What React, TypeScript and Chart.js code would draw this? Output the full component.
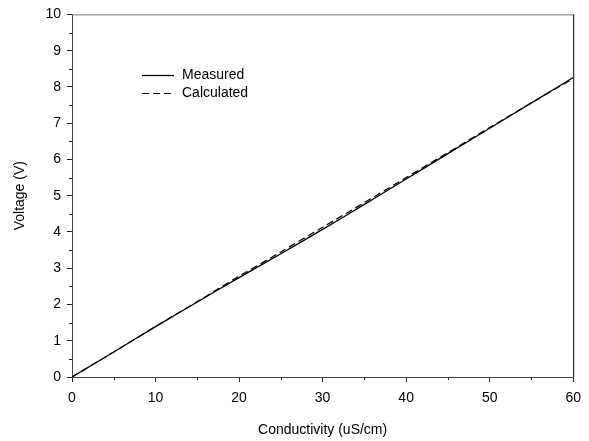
import React, { useEffect, useRef } from "react";
import { Chart, registerables } from "chart.js";

Chart.register(...registerables);

const conductivity = [0, 5, 10, 15, 20, 25, 30, 35, 40, 45, 50, 55, 60];
const measured = [0, 0.69, 1.39, 2.07, 2.74, 3.4, 4.07, 4.76, 5.46, 6.16, 6.86, 7.56, 8.26];
const calculated = [0, 0.69, 1.39, 2.08, 2.78, 3.45, 4.13, 4.81, 5.5, 6.19, 6.88, 7.56, 8.23];
const xTicks = [0, 10, 20, 30, 40, 50, 60];
const yTicks = [0, 1, 2, 3, 4, 5, 6, 7, 8, 9, 10];

const FONT = "'Liberation Sans', Arial, sans-serif";

const framePlugin = {
  id: "frame",
  afterDraw(chart: any) {
    const { ctx, chartArea } = chart;
    const xs = chart.scales.x;
    const ys = chart.scales.y;
    ctx.save();
    ctx.lineWidth = 1;
    ctx.strokeStyle = "#7a7a7a";
    ctx.beginPath();
    ctx.moveTo(chartArea.left, chartArea.top + 0.5);
    ctx.lineTo(chartArea.right, chartArea.top + 0.5);
    ctx.stroke();
    ctx.strokeStyle = "#000";
    ctx.beginPath();
    ctx.moveTo(chartArea.right + 0.5, chartArea.top);
    ctx.lineTo(chartArea.right + 0.5, chartArea.bottom);
    ctx.stroke();
    ctx.strokeStyle = "#222";
    for (let i = 0; i < xTicks.length - 1; i++) {
      const v = (xTicks[i] + xTicks[i + 1]) / 2;
      const px = Math.round(xs.getPixelForValue(v)) + 0.5;
      ctx.beginPath();
      ctx.moveTo(px, chartArea.bottom);
      ctx.lineTo(px, chartArea.bottom + 3);
      ctx.stroke();
    }
    for (let i = 0; i < yTicks.length - 1; i++) {
      const v = (yTicks[i] + yTicks[i + 1]) / 2;
      const py = Math.round(ys.getPixelForValue(v)) + 0.5;
      ctx.beginPath();
      ctx.moveTo(chartArea.left, py);
      ctx.lineTo(chartArea.left - 3, py);
      ctx.stroke();
    }
    const items = chart.data.datasets;
    ctx.font = `14px ${FONT}`;
    ctx.textBaseline = "middle";
    ctx.fillStyle = "#000";
    items.forEach((ds: any, i: number) => {
      const y = 75.5 + i * 18;
      ctx.strokeStyle = ds.borderColor;
      ctx.lineWidth = ds.borderWidth;
      ctx.setLineDash(ds.borderDash || []);
      ctx.beginPath();
      ctx.moveTo(142, y);
      ctx.lineTo(174, y);
      ctx.stroke();
      ctx.setLineDash([]);
      ctx.fillText(ds.label, 182, y);
    });
    ctx.restore();
  },
};

export default function App() {
  const ref = useRef<HTMLCanvasElement | null>(null);
  useEffect(() => {
    if (!ref.current) return;
    const chart = new Chart(ref.current, {
      type: "line",
      data: {
        datasets: [
          {
            label: "Measured",
            data: conductivity.map((x, i) => ({ x, y: measured[i] })),
            borderColor: "#000",
            borderWidth: 1.3,
            pointRadius: 0,
            tension: 0.3,
          },
          {
            label: "Calculated",
            data: conductivity.map((x, i) => ({ x, y: calculated[i] })),
            borderColor: "#000",
            borderWidth: 1.2,
            borderDash: [7, 4],
            pointRadius: 0,
            tension: 0.3,
          },
        ],
      },
      options: {
        animation: false,
        responsive: false,
        layout: { padding: { top: 14, right: 15, left: 0, bottom: 0 } },
        plugins: { legend: { display: false }, tooltip: { enabled: false } },
        scales: {
          x: {
            type: "linear",
            min: 0,
            max: 60,
            afterFit: (s: any) => {
              s.height = 64;
            },
            afterBuildTicks: (s: any) => {
              s.ticks = xTicks.map((v) => ({ value: v }));
            },
            ticks: {
              color: "#000",
              font: { family: FONT, size: 14 },
              padding: 8,
              maxRotation: 0,
            },
            grid: { display: true, drawOnChartArea: false, drawTicks: true, tickLength: 5, tickColor: "#222" },
            border: { display: true, color: "#444", width: 1 },
            title: {
              display: true,
              text: "Conductivity (uS/cm)",
              color: "#000",
              font: { family: FONT, size: 14 },
              padding: { top: 2, bottom: 2 },
            },
          },
          y: {
            type: "linear",
            min: 0,
            max: 10,
            afterFit: (s: any) => {
              s.width = 72;
            },
            afterBuildTicks: (s: any) => {
              s.ticks = yTicks.map((v) => ({ value: v }));
            },
            ticks: {
              color: "#000",
              font: { family: FONT, size: 14 },
              padding: 6,
            },
            grid: { display: true, drawOnChartArea: false, drawTicks: true, tickLength: 5, tickColor: "#222" },
            border: { display: true, color: "#444", width: 1 },
            title: {
              display: true,
              text: "Voltage (V)",
              color: "#000",
              font: { family: FONT, size: 14 },
              padding: { top: 12, bottom: 2 },
            },
          },
        },
      },
      plugins: [framePlugin],
    });
    return () => chart.destroy();
  }, []);
  return (
    <div style={{ position: "fixed", left: 0, top: 0, width: 589, height: 441, background: "#fff" }}>
      <canvas ref={ref} width={589} height={441} style={{ width: 589, height: 441 }} />
    </div>
  );
}
